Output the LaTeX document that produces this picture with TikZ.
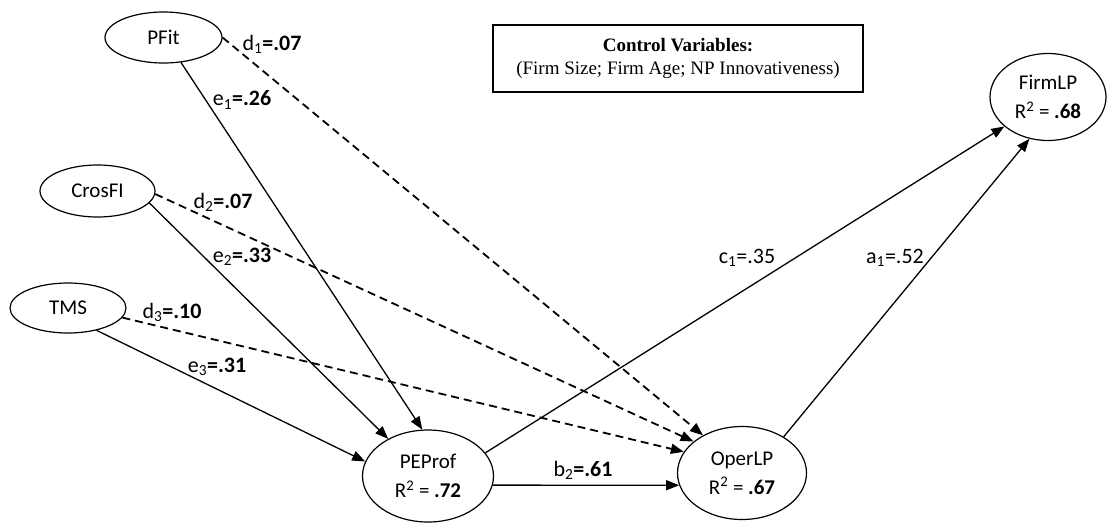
\documentclass[tikz,border=0pt]{standalone}
\usepackage{fontspec}
\setmainfont{Carlito}
\newfontfamily\timesfont{Liberation Serif}
\usetikzlibrary{shapes.geometric,arrows.meta}

\tikzset{
  var/.style={ellipse, draw, line width=1.2pt, inner sep=0pt, align=center,
    font=\fontsize{21}{29}\selectfont},
  coef/.style={inner sep=0pt, font=\fontsize{22}{26}\selectfont},
  solidarrow/.style={line width=1.3pt, -{Triangle[length=13pt,width=10pt]}},
  dasharrow/.style={line width=1.8pt, dash pattern=on 8pt off 5pt,
    -{Triangle[length=13pt,width=10pt]}},
  ctrlbox/.style={draw, line width=1.2pt, minimum width=370pt, minimum height=67pt,
    align=center, font=\timesfont\fontsize{19}{23}\selectfont}
}

\begin{document}
\begin{tikzpicture}[x=1pt,y=-1pt]
  \useasboundingbox (0,0) rectangle (1107,523);

  % latent variables
  \node[var, minimum width=117pt, minimum height=51pt] (pfit)   at (163.5,37.5) {PFit};
  \node[var, minimum width=115pt, minimum height=52pt] (crosfi) at (97.5,191)  {CrosFI};
  \node[var, minimum width=116pt, minimum height=50pt] (tms)    at (68,308)    {TMS};
  \node[var, minimum width=131pt, minimum height=92pt] (peprof) at (428,476)
    {PEProf\\R\textsuperscript{2} = \textbf{.72}};
  \node[var, minimum width=129pt, minimum height=93pt] (operlp) at (742,473)
    {OperLP\\R\textsuperscript{2} = \textbf{.67}};
  \node[var, minimum width=116pt, minimum height=87pt] (firmlp) at (1048,97)
    {FirmLP\\R\textsuperscript{2} = \textbf{.68}};

  % control variables
  \node[ctrlbox] (ctrl) at (678,58.5)
    {\textbf{Control Variables:}\\(Firm Size; Firm Age; NP Innovativeness)};

  % direct paths to OperLP (dashed)
  \draw[dasharrow] (pfit.0)    -- (operlp.136.5);
  \draw[dasharrow] (crosfi.-3) -- (operlp.147.7);
  \draw[dasharrow] (tms.-10.5) -- (operlp.160.4);

  % paths to PEProf
  \draw[solidarrow] (pfit.-55)   -- (peprof.97.4);
  \draw[solidarrow] (crosfi.-13) -- (peprof.137.7);
  \draw[solidarrow] (tms.-38.7)  -- (peprof.167);

  % outcome paths
  \draw[solidarrow] (peprof.-8) -- (operlp.-169);
  \draw[solidarrow] (peprof.22) -- (firmlp.-146.3);
  \draw[solidarrow] (operlp.41) -- (firmlp.-114.4);

  % path coefficients
  \node[coef] (d1) at (272,44)  {d\textsubscript{1}\textbf{=.07}};
  \node[coef] (e1) at (242,100) {e\textsubscript{1}\textbf{=.26}};
  \node[coef] (d2) at (223,202) {d\textsubscript{2}\textbf{=.07}};
  \node[coef] (e2) at (242,257) {e\textsubscript{2}\textbf{=.33}};
  \node[coef] (d3) at (172,312) {d\textsubscript{3}\textbf{=.10}};
  \node[coef] (e3) at (217,367) {e\textsubscript{3}\textbf{=.31}};
  \node[coef] (c1) at (747,258) {c\textsubscript{1}=.35};
  \node[coef] (a1) at (895,258) {a\textsubscript{1}=.52};
  \node[coef] (b2) at (583,470) {b\textsubscript{2}\textbf{=.61}};
\end{tikzpicture}
\end{document}
